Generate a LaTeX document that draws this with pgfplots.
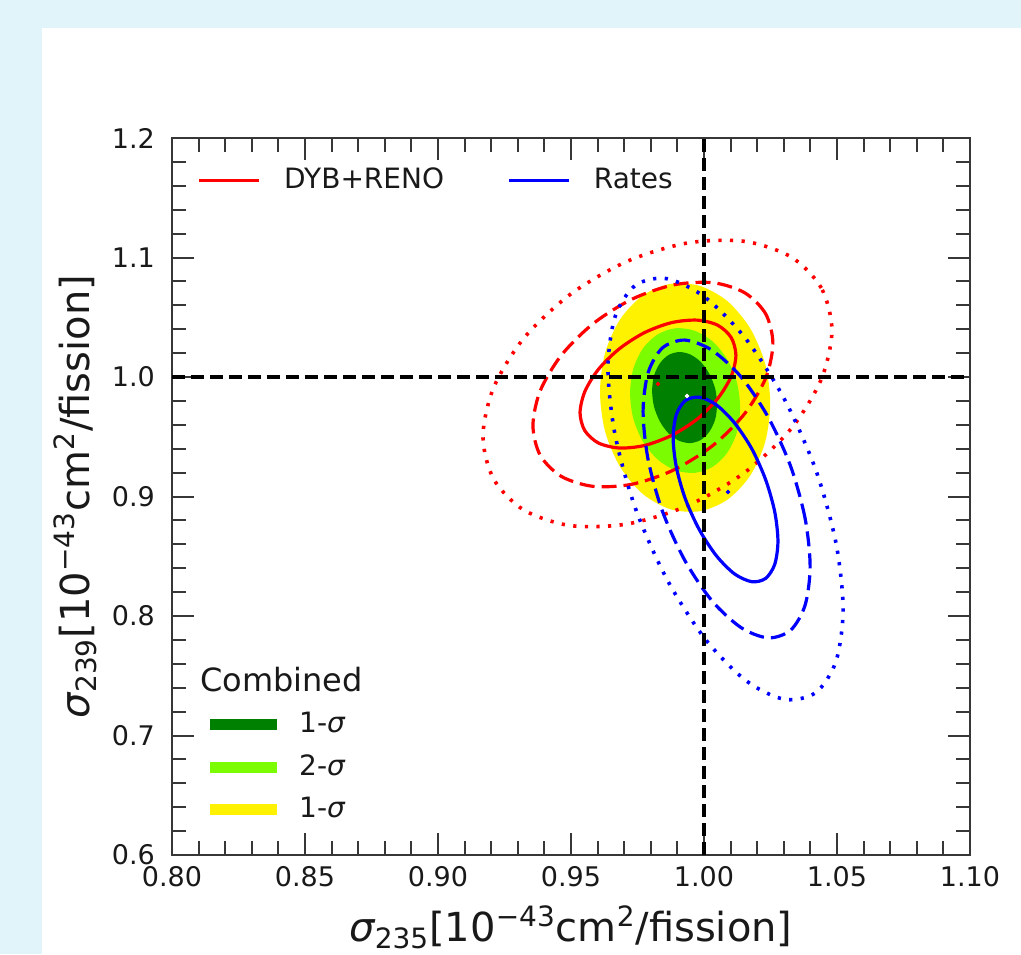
\documentclass[border=0pt]{standalone}
\usepackage{fontspec}
\setmainfont{DejaVu Sans}
\usepackage{pgfplots}
\pgfplotsset{compat=1.18}
\pgfdeclarelayer{background}
\pgfsetlayers{background,main}

\definecolor{pagebg}{RGB}{225,244,249}
\definecolor{dkgreen}{RGB}{0,128,0}
\definecolor{ltgreen}{RGB}{124,252,0}
\definecolor{framegray}{RGB}{55,55,55}
\definecolor{ink}{RGB}{25,25,25}

\newcommand{\sig}{{\itshape σ}}

\tikzset{
  csolid/.style={line width=1.6pt},
  cdashed/.style={line width=1.6pt, dash pattern=on 7.5pt off 3.5pt},
  cdotted/.style={line width=1.8pt, dash pattern=on 1.6pt off 4.2pt},
}

\begin{document}
\begin{tikzpicture}
\begin{axis}[
  name=main, at={(0,0)}, anchor=south west,
  width=399pt, height=358.5pt, scale only axis,
  xmin=0.8, xmax=1.1, ymin=0.6, ymax=1.2,
  xtick={0.80,0.85,0.90,0.95,1.00,1.05,1.10},
  ytick={0.6,0.7,0.8,0.9,1.0,1.1,1.2},
  minor x tick num=4, minor y tick num=4,
  tick align=inside,
  major tick length=11pt, minor tick length=7pt,
  every tick/.style={framegray, line width=1pt},
  axis line style={framegray, line width=1.1pt},
  /pgf/number format/assume math mode=true,
  tick label style={font=\fontsize{13.5}{16}\selectfont, text=ink},
  xticklabel style={yshift=-2pt, /pgf/number format/fixed, /pgf/number format/fixed zerofill, /pgf/number format/precision=2},
  yticklabel style={xshift=-5pt, /pgf/number format/fixed, /pgf/number format/fixed zerofill, /pgf/number format/precision=1},
  xlabel={\sig\textsubscript{235}[10\textsuperscript{−43}cm\textsuperscript{2}/fission]},
  ylabel={\sig\textsubscript{239}[10\textsuperscript{−43}cm\textsuperscript{2}/fission]},
  xlabel style={font=\fontsize{20}{24}\selectfont, text=ink, inner sep=0pt, at={(axis description cs:0.5,-0.1005)}, anchor=center},
  ylabel style={font=\fontsize{20}{24}\selectfont, text=ink, at={(axis description cs:-0.1215,0.5)}, anchor=center},
  legend image code/.code={\draw[#1] (0pt,0pt) -- (30pt,0pt);},
  legend style={at={(axis description cs:0.0313,0.958)}, anchor=north west,
    draw=none, fill=none, inner sep=0pt, text=ink,
    font=\fontsize{14}{17}\selectfont,
    nodes={inner sep=0pt, text height=10pt, text depth=2pt},
    /tikz/every odd column/.append style={column sep=11.5pt},
    /tikz/every even column/.append style={column sep=31.5pt}},
  legend columns=2,
]
\addlegendimage{red, line width=1.9pt}
\addlegendentry{DYB+RENO}
\addlegendimage{blue, line width=1.9pt}
\addlegendentry{Rates}

% combined allowed regions (filled)
\addplot[forget plot, draw=none, fill=yellow, smooth cycle] coordinates {
(1.0249,0.9780) (1.0230,1.0110) (1.0174,1.0406) (1.0089,1.0633) (0.9985,1.0762) (0.9873,1.0779)
(0.9769,1.0681) (0.9684,1.0480) (0.9628,1.0200) (0.9609,0.9876) (0.9628,0.9546) (0.9684,0.9250)
(0.9769,0.9023) (0.9873,0.8894) (0.9985,0.8877) (1.0089,0.8975) (1.0174,0.9176) (1.0230,0.9456)};
\addplot[forget plot, draw=none, fill=ltgreen, smooth cycle] coordinates {
(1.0136,0.9742) (1.0124,0.9952) (1.0088,1.0145) (1.0033,1.0296) (0.9965,1.0387) (0.9893,1.0408)
(0.9826,1.0357) (0.9770,1.0238) (0.9734,1.0067) (0.9722,0.9864) (0.9734,0.9654) (0.9770,0.9461)
(0.9826,0.9310) (0.9893,0.9219) (0.9965,0.9198) (1.0033,0.9249) (1.0088,0.9368) (1.0124,0.9539)};
\addplot[forget plot, draw=none, fill=dkgreen, smooth cycle] coordinates {
(1.0049,0.9771) (1.0042,0.9903) (1.0020,1.0027) (0.9988,1.0126) (0.9948,1.0189) (0.9906,1.0209)
(0.9866,1.0183) (0.9834,1.0114) (0.9812,1.0011) (0.9805,0.9885) (0.9812,0.9753) (0.9834,0.9629)
(0.9866,0.9530) (0.9906,0.9467) (0.9948,0.9447) (0.9988,0.9473) (1.0020,0.9542) (1.0042,0.9645)};

% DYB+RENO contours
\addplot[forget plot, red, csolid, smooth cycle] coordinates {
(1.0120,1.0182) (1.0102,1.0331) (1.0051,1.0434) (0.9974,1.0476) (0.9878,1.0455) (0.9776,1.0371)
(0.9681,1.0235) (0.9603,1.0064) (0.9552,0.9878) (0.9534,0.9700) (0.9552,0.9551) (0.9603,0.9448)
(0.9681,0.9406) (0.9776,0.9427) (0.9878,0.9511) (0.9974,0.9647) (1.0051,0.9818) (1.0102,1.0004)};
\addplot[forget plot, red, cdashed, smooth cycle] coordinates {
(1.0259,1.0280) (1.0232,1.0528) (1.0153,1.0705) (1.0034,1.0789) (0.9886,1.0771) (0.9730,1.0652)
(0.9583,1.0446) (0.9463,1.0180) (0.9384,0.9883) (0.9357,0.9594) (0.9384,0.9346) (0.9463,0.9169)
(0.9583,0.9085) (0.9730,0.9103) (0.9886,0.9222) (1.0034,0.9428) (1.0153,0.9694) (1.0232,0.9991)};
\addplot[forget plot, red, cdotted, smooth cycle] coordinates {
(1.0481,1.0390) (1.0441,1.0745) (1.0328,1.1004) (1.0153,1.1135) (0.9939,1.1122) (0.9711,1.0968)
(0.9497,1.0691) (0.9322,1.0323) (0.9209,0.9910) (0.9169,0.9502) (0.9209,0.9147) (0.9322,0.8888)
(0.9497,0.8757) (0.9711,0.8770) (0.9939,0.8924) (1.0153,0.9201) (1.0328,0.9569) (1.0441,0.9982)};

% Rates contours
\addplot[forget plot, blue, csolid, smooth cycle] coordinates {
(1.0278,0.8626) (1.0266,0.8871) (1.0232,0.9139) (1.0180,0.9398) (1.0115,0.9615) (1.0047,0.9766)
(0.9983,0.9831) (0.9930,0.9803) (0.9896,0.9685) (0.9884,0.9492) (0.9896,0.9247) (0.9930,0.8979)
(0.9983,0.8720) (1.0047,0.8503) (1.0115,0.8352) (1.0180,0.8287) (1.0232,0.8315) (1.0266,0.8433)};
\addplot[forget plot, blue, cdashed, smooth cycle] coordinates {
(1.0399,0.8415) (1.0380,0.8818) (1.0326,0.9251) (1.0242,0.9661) (1.0140,0.9999) (1.0030,1.0224)
(0.9928,1.0309) (0.9844,1.0244) (0.9790,1.0036) (0.9771,0.9711) (0.9790,0.9308) (0.9844,0.8875)
(0.9928,0.8465) (1.0030,0.8127) (1.0140,0.7902) (1.0242,0.7817) (1.0326,0.7882) (1.0380,0.8090)};
\addplot[forget plot, blue, cdotted, smooth cycle] coordinates {
(1.0523,0.8056) (1.0496,0.8613) (1.0420,0.9224) (1.0302,0.9816) (1.0158,1.0317) (1.0004,1.0667)
(0.9860,1.0823) (0.9742,1.0767) (0.9666,1.0506) (0.9639,1.0070) (0.9666,0.9513) (0.9742,0.8902)
(0.9860,0.8310) (1.0004,0.7809) (1.0158,0.7459) (1.0302,0.7303) (1.0420,0.7359) (1.0496,0.7620)};

% reference lines
\addplot[forget plot, black, line width=2.2pt, dash pattern=on 6.5pt off 3pt] coordinates {(0.8,1.0) (1.1,1.0)};
\addplot[forget plot, black, line width=2.2pt, dash pattern=on 6.5pt off 3pt] coordinates {(1.0,0.6) (1.0,1.2)};

% best-fit points
\addplot[forget plot, only marks, mark=*, mark size=0.9pt, red] coordinates {(0.9827,0.9941)};
\addplot[forget plot, only marks, mark=*, mark size=0.9pt, white] coordinates {(0.9936,0.9841)};
\addplot[forget plot, only marks, mark=*, mark size=0.9pt, blue] coordinates {(1.0090,0.9038)};

\node[anchor=west, inner sep=0pt, font=\fontsize{16}{19}\selectfont, text=ink]
  at (axis description cs:0.035,0.244) {Combined};
\end{axis}

% second legend: combined confidence regions
\begin{axis}[
  at={(main.south west)}, anchor=south west,
  width=399pt, height=358.5pt, scale only axis, hide axis,
  xmin=0.8, xmax=1.1, ymin=0.6, ymax=1.2,
  legend style={at={(axis description cs:0.0476,0.046)}, anchor=south west,
    draw=none, fill=none, inner sep=0pt, text=ink,
    font=\fontsize{14}{17}\selectfont,
    nodes={inner sep=0pt, text height=10pt, text depth=2pt},
    row sep=9.25pt,
    /tikz/every odd column/.append style={column sep=11pt}},
  legend cell align=left,
]
\addlegendimage{legend image code/.code={\fill[dkgreen] (0pt,-2.6pt) rectangle (33pt,2.6pt);}}
\addlegendentry{1-\sig}
\addlegendimage{legend image code/.code={\fill[ltgreen] (0pt,-2.6pt) rectangle (33pt,2.6pt);}}
\addlegendentry{2-\sig}
\addlegendimage{legend image code/.code={\fill[yellow] (0pt,-2.6pt) rectangle (33pt,2.6pt);}}
\addlegendentry{1-\sig}
\end{axis}

\begin{pgfonlayer}{background}
\fill[pagebg] ([shift={(-86pt,-49.5pt)}]main.south west) rectangle ([shift={(424.5pt,427.5pt)}]main.south west);
\fill[white] ([shift={(-65pt,-49.5pt)}]main.south west) rectangle ([shift={(424.5pt,413.5pt)}]main.south west);
\end{pgfonlayer}
\pgfresetboundingbox
\path[use as bounding box] ([shift={(-86pt,-49.5pt)}]main.south west) rectangle ([shift={(424.5pt,427.5pt)}]main.south west);
\end{tikzpicture}
\end{document}
